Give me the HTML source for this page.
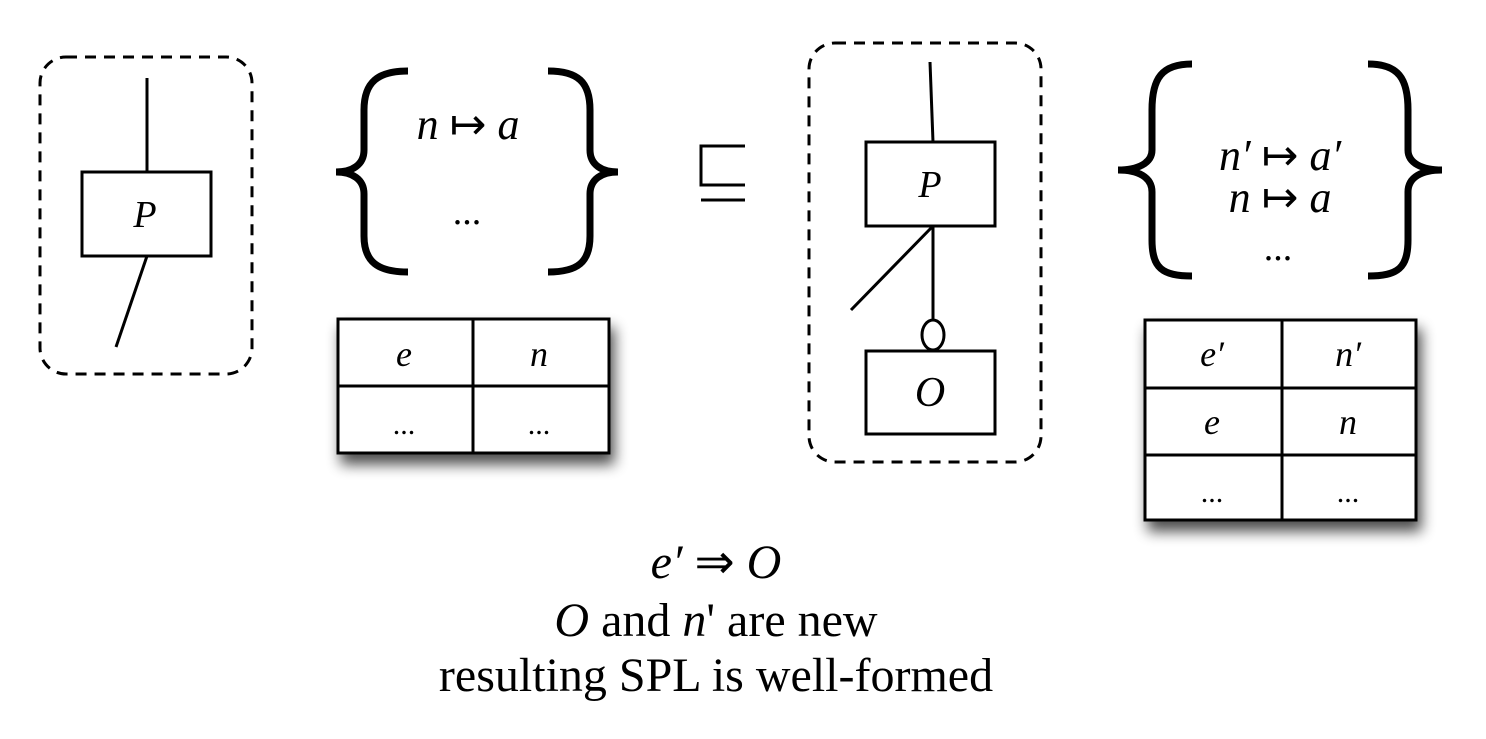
<!DOCTYPE html>
<html><head><meta charset="utf-8"><style>
html,body{margin:0;padding:0;background:#fff;}
svg{display:block;font-family:"Liberation Serif",serif;}
.i{font-style:italic;}
</style></head><body>
<svg width="1486" height="739" viewBox="0 0 1486 739">
<defs>
<filter id="sh" x="-20%" y="-20%" width="140%" height="160%">
<feGaussianBlur in="SourceAlpha" stdDeviation="7"/><feOffset dx="4" dy="10"/>
<feComponentTransfer><feFuncA type="linear" slope="0.7"/></feComponentTransfer>
<feMerge><feMergeNode/><feMergeNode in="SourceGraphic"/></feMerge></filter>
</defs>
<g fill="none" stroke="#000" stroke-width="3">
<rect x="40" y="57" width="212" height="317" rx="26" stroke-dasharray="11,8"/>
<line x1="147" y1="78" x2="147" y2="172"/>
<rect x="82" y="172" width="129" height="84"/>
<line x1="147" y1="256" x2="116" y2="347"/>
<path stroke-width="7" d="M408,71 C378,71 364,82 364,110 L364,150 C364,165 352,172 336,172 C352,172 364,179 364,194 L364,236 C364,262 378,272 408,272"/>
<path stroke-width="7" d="M548,71 C578,71 590,82 590,110 L590,150 C590,165 602,172 618,172 C602,172 590,179 590,194 L590,236 C590,262 578,272 548,272"/>
<path d="M745,146 L701,146 L701,185 L745,185 M701,200 L745,200"/>
<rect x="809" y="43" width="232" height="419" rx="26" stroke-dasharray="11,8"/>
<line x1="930" y1="62" x2="933" y2="142"/>
<rect x="866" y="142" width="129" height="84"/>
<line x1="933" y1="226" x2="851" y2="310"/>
<line x1="933" y1="226" x2="933" y2="320"/>
<ellipse cx="933" cy="335" rx="11" ry="15"/>
<rect x="866" y="351" width="129" height="83"/>
<path stroke-width="7" d="M1192,64 C1162,64 1152,78 1152,110 L1152,150 C1152,163 1138,170 1118,170 C1138,170 1152,177 1152,192 L1152,240 C1152,268 1162,276 1192,276"/>
<path stroke-width="7" d="M1368,64 C1398,64 1408,78 1408,110 L1408,150 C1408,163 1422,170 1442,170 C1422,170 1408,177 1408,192 L1408,240 C1408,268 1398,276 1368,276"/>
</g>
<g filter="url(#sh)">
<rect x="338" y="319" width="271" height="134" fill="#fff" stroke="#000" stroke-width="3"/>
</g>
<g stroke="#000" stroke-width="3">
<line x1="338" y1="386" x2="609" y2="386"/><line x1="473" y1="319" x2="473" y2="453"/>
</g>
<g filter="url(#sh)">
<rect x="1145" y="320" width="271" height="200" fill="#fff" stroke="#000" stroke-width="3"/>
</g>
<g stroke="#000" stroke-width="3">
<line x1="1145" y1="388" x2="1416" y2="388"/><line x1="1145" y1="455" x2="1416" y2="455"/><line x1="1282" y1="320" x2="1282" y2="520"/>
</g>
<g text-anchor="middle" fill="#000">
<text class="i" x="145" y="227" font-size="38">P</text>
<text x="468" y="139" font-size="44"><tspan class="i">n</tspan> ↦ <tspan class="i">a</tspan></text>
<text x="467" y="224" font-size="38">...</text>
<text class="i" x="404" y="366" font-size="36">e</text>
<text class="i" x="539" y="366" font-size="36">n</text>
<text x="404" y="434" font-size="30">...</text>
<text x="539" y="434" font-size="30">...</text>
<text class="i" x="930" y="197" font-size="38">P</text>
<text class="i" x="930" y="406" font-size="42">O</text>
<text x="1280" y="170" font-size="44"><tspan class="i">n′</tspan> ↦ <tspan class="i">a′</tspan></text>
<text x="1280" y="212" font-size="44"><tspan class="i">n</tspan> ↦ <tspan class="i">a</tspan></text>
<text x="1278" y="260" font-size="38">...</text>
<text class="i" x="1212" y="366" font-size="36">e′</text>
<text class="i" x="1348" y="366" font-size="36">n′</text>
<text class="i" x="1212" y="434" font-size="36">e</text>
<text class="i" x="1348" y="434" font-size="36">n</text>
<text x="1212" y="502" font-size="30">...</text>
<text x="1348" y="502" font-size="30">...</text>
<text x="716" y="578" font-size="48"><tspan class="i">e′</tspan> ⇒ <tspan class="i">O</tspan></text>
<text x="716" y="636" font-size="48"><tspan class="i">O</tspan> and <tspan class="i">n</tspan>' are new</text>
<text x="716" y="691" font-size="48">resulting SPL is well-formed</text>
</g>
</svg>
</body></html>
